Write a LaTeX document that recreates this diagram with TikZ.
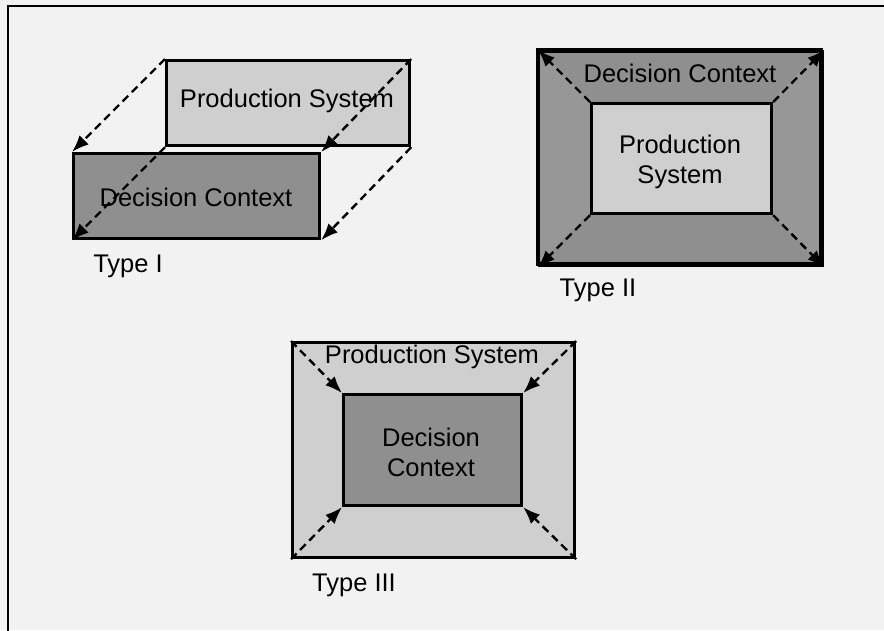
\documentclass[tikz,border=0pt]{standalone}
\usepackage{fontspec}
\setmainfont{Liberation Sans}
\usetikzlibrary{arrows.meta}
\definecolor{paper}{HTML}{F2F2F2}
\definecolor{psgray}{HTML}{CFCFCF}
\definecolor{dcgray}{HTML}{8F8F8F}
\definecolor{dcgraylight}{HTML}{979797}
\begin{document}
\begin{tikzpicture}[x=1pt,y=-1pt,
  every node/.style={font=\fontsize{25.5}{30}\selectfont, inner sep=0pt, align=center},
  panel/.style={draw=black, line width=3.2pt, anchor=north west},
  psbox/.style={panel, fill=psgray},
  dcbox/.style={panel, fill=dcgray},
  dasharrow/.style={draw=black, line width=2.4pt, dash pattern=on 8pt off 5pt,
    -{Latex[length=17pt,width=13pt]}},
  caption/.style={anchor=center}]
  \useasboundingbox (0,0) rectangle (884,630);
  \clip (0,0) rectangle (884,630);
  \fill[paper] (0,0) rectangle (884,630);
  % page frame (right and bottom edges fall off the page)
  \draw[line width=2.6pt] (8,6) rectangle (950,700);

  % ---- Type I: production system stacked behind the decision context
  \node[psbox, minimum width=243pt, minimum height=85pt] (ps1) at (165,59) {};
  \node at (287,101) {Production System};
  \node[dcbox, minimum width=246pt, minimum height=85pt] (dc1) at (72,152) {};
  \node at (196,197) {Decision Context};
  \draw[dasharrow] (ps1.north west) -- (dc1.north west);
  \draw[dasharrow] (ps1.north east) -- (dc1.north east);
  \draw[dasharrow] (ps1.south west) -- (dc1.south west);
  \draw[dasharrow] (ps1.south east) -- (dc1.south east);
  \node[caption] (t1) at (128,266) {Type I};

  % ---- Type II: decision context surrounds the production system
  \node[dcbox, minimum width=283pt, minimum height=214pt] (dc2) at (538,50) {};
  \fill[dcgraylight] (590,102) -- (538,50) -- (538,264) -- (590,212) -- cycle;
  \fill[dcgraylight] (770,102) -- (821,50) -- (821,264) -- (770,212) -- cycle;
  \draw[line width=3.2pt] (538,50) rectangle (821,264);
  \node[psbox, minimum width=180pt, minimum height=110pt] (ps2) at (590,102) {};
  \node at (680,73) {Decision Context};
  \node at (680,162) {Production\\System};
  \draw[dasharrow] (ps2.north west) -- (dc2.north west);
  \draw[dasharrow] (ps2.north east) -- (dc2.north east);
  \draw[dasharrow] (ps2.south west) -- (dc2.south west);
  \draw[dasharrow] (ps2.south east) -- (dc2.south east);
  \node[caption] (t2) at (598,290) {Type II};

  % ---- Type III: production system surrounds the decision context
  \node[psbox, minimum width=282pt, minimum height=215pt] (ps3) at (291,341) {};
  \node[dcbox, minimum width=178pt, minimum height=111pt] (dc3) at (342,393) {};
  \node at (432,357) {Production System};
  \node at (431,452) {Decision\\Context};
  \draw[dasharrow] (ps3.north west) -- (dc3.north west);
  \draw[dasharrow] (ps3.north east) -- (dc3.north east);
  \draw[dasharrow] (ps3.south west) -- (dc3.south west);
  \draw[dasharrow] (ps3.south east) -- (dc3.south east);
  \node[caption] (t3) at (354,585) {Type III};
\end{tikzpicture}
\end{document}
